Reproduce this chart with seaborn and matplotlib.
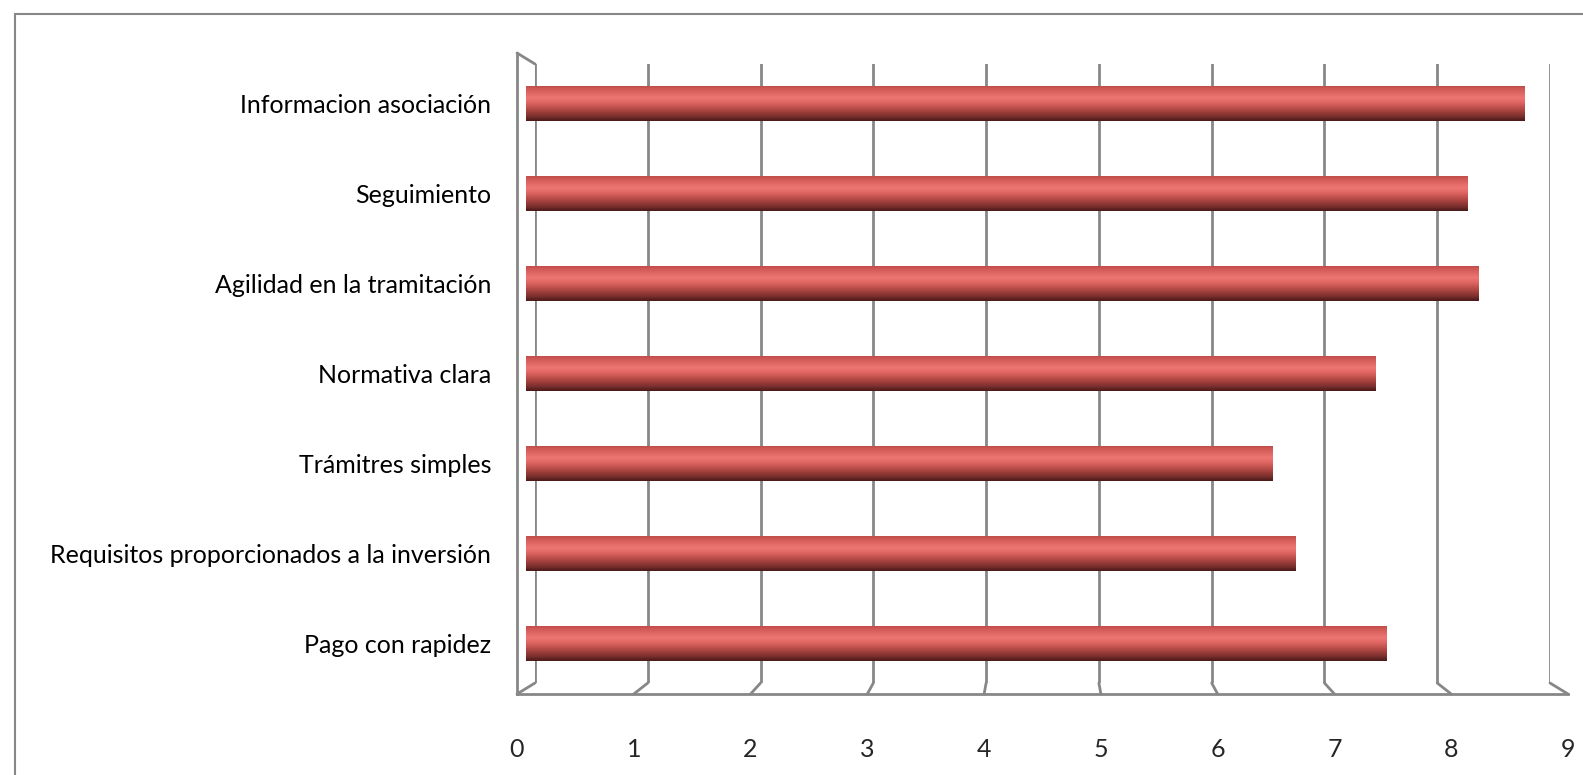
import numpy as np
import seaborn as sns
import matplotlib.pyplot as plt
from matplotlib.colors import LinearSegmentedColormap
from matplotlib.patches import ConnectionPatch, Rectangle

# Data
categories = ["Informacion asociación", "Seguimiento", "Agilidad en la tramitación",
              "Normativa clara", "Trámitres simples",
              "Requisitos proporcionados a la inversión", "Pago con rapidez"]
values = [8.7, 8.2, 8.3, 7.4, 6.5, 6.7, 7.5]
x_ticks = list(range(10))

sns.set_style('white')
plt.rcParams['font.family'] = ['Lato', 'DejaVu Sans']

W, H = 1583, 775
fig = plt.figure(figsize=(W / 100, H / 100), dpi=100)

def px(x0, y0, x1, y1):
    # pixel box -> figure fraction
    return [x0 / W, 1 - y1 / H, (x1 - x0) / W, (y1 - y0) / H]

grey = '#878787'
lw = 2.0

# outer frame (only top and left visible)
fig.patches.append(Rectangle((15 / W, -0.1), 1.2, 1.1 - 14 / H, transform=fig.transFigure,
                             fill=False, edgecolor=grey, lw=1.5))

# back wall with gridlines
ax_back = fig.add_axes(px(535, 64, 1550, 683))
ax_back.set_xlim(0, 9)
ax_back.set_ylim(0, 1)
ax_back.set_xticks(x_ticks)
ax_back.set_yticks([])
ax_back.grid(axis='x', color=grey, lw=lw)
ax_back.tick_params(axis='x', length=0, labelbottom=False)
sns.despine(ax=ax_back, left=True, bottom=True)

# bars (mid depth)
ax_bar = fig.add_axes(px(526, 58.5, 1559, 688.5))
ax_bar.patch.set_alpha(0)
sns.barplot(x=values, y=categories, orient='h', width=0.39, ax=ax_bar, color='#c0504d')
ax_bar.set_xlim(0, 9)
ylim = ax_bar.get_ylim()
cmap = LinearSegmentedColormap.from_list('cyl', [
    (0.0, '#bb4b48'), (0.12, '#d35c59'), (0.35, '#ee7672'), (0.5, '#de6460'),
    (0.7, '#ad4542'), (0.88, '#7a2f2d'), (1.0, '#4a1a19')])
grad = np.linspace(0, 1, 64).reshape(-1, 1)
for p in list(ax_bar.patches):
    x0, y0, w, h = p.get_x(), p.get_y(), p.get_width(), p.get_height()
    p.set_facecolor('none')
    p.set_edgecolor('none')
    im = ax_bar.imshow(grad, extent=[x0, x0 + w, y0 + h, y0], aspect='auto',
                       cmap=cmap, interpolation='bicubic', zorder=3)
    im.set_clip_path(p)
ax_bar.set_xlim(0, 9)
ax_bar.set_ylim(ylim)
ax_bar.set_xlabel('')
ax_bar.set_ylabel('')
ax_bar.set_xticks([])
ax_bar.tick_params(axis='y', length=0, pad=25, labelsize=18, labelcolor='black')
sns.despine(ax=ax_bar, left=True, bottom=True)

# front axis
ax_front = fig.add_axes(px(517, 53, 1568, 694))
ax_front.patch.set_alpha(0)
ax_front.set_xlim(0, 9)
ax_front.set_ylim(0, len(categories))
ax_front.set_xticks(x_ticks)
ax_front.set_yticks(range(len(categories) + 1))
ax_front.set_yticklabels([])
ax_front.tick_params(axis='x', length=5, width=lw, color=grey, pad=27, labelsize=18)
ax_front.tick_params(axis='y', length=7, width=lw, color=grey)
sns.despine(ax=ax_front)
for s in ['left', 'bottom']:
    ax_front.spines[s].set_color(grey)
    ax_front.spines[s].set_linewidth(lw)

# depth connectors between back wall and front axis
for v in x_ticks:
    fig.add_artist(ConnectionPatch(xyA=(v, 0), coordsA=ax_back.transData,
                                   xyB=(v, 0), coordsB=ax_front.transData,
                                   color=grey, lw=lw))
fig.add_artist(ConnectionPatch(xyA=(0, 1), coordsA=ax_back.transData,
                               xyB=(0, len(categories)), coordsB=ax_front.transData,
                               color=grey, lw=lw))

fig.savefig('out.png', dpi=100)
